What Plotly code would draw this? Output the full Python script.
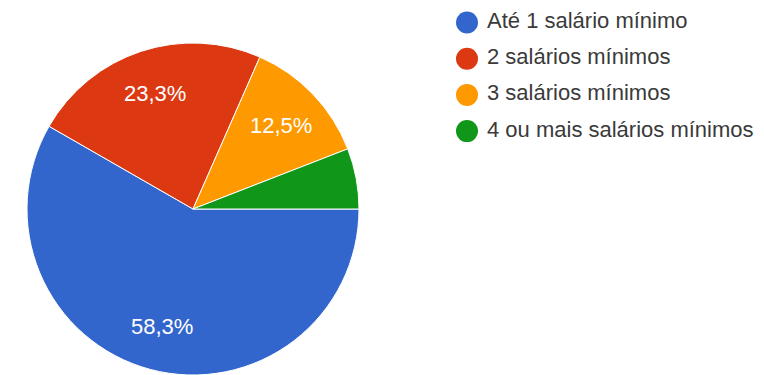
import math
import plotly.graph_objects as go

# Income distribution (share of respondents)
categories = [
    "Até 1 salário mínimo",
    "2 salários mínimos",
    "3 salários mínimos",
    "4 ou mais salários mínimos",
]
shares = [58.3, 23.3, 12.5, 5.9]
colors = ["#3366cc", "#dc3912", "#ff9900", "#109618"]
# the smallest slice carries no label
show_label = [True, True, True, False]

W, H = 764, 375
FONT = "Liberation Sans, Arial, sans-serif"

# pie placement in pixels
cx, cy, r = 193, 209, 166
start_deg = 90          # first slice starts at 3 o'clock, runs clockwise
label_radius = 0.73     # fraction of the radius where slice labels sit

fig = go.Figure()

fig.add_trace(go.Pie(
    labels=categories,
    values=shares,
    sort=False,
    direction="clockwise",
    rotation=start_deg,
    marker=dict(colors=colors, line=dict(color="white", width=1)),
    textinfo="none",
    showlegend=False,
    hoverinfo="label+percent",
    domain=dict(
        x=[(cx - r) / W, (cx + r) / W],
        y=[1 - (cy + r) / H, 1 - (cy - r) / H],
    ),
))

# slice labels, placed on each slice's mid angle
total = sum(shares)
cum = 0.0
for share, show in zip(shares, show_label):
    mid = math.radians(start_deg + 360 * (cum + share / 2) / total)
    cum += share
    if not show:
        continue
    px = cx + label_radius * r * math.sin(mid)
    py = cy - label_radius * r * math.cos(mid)
    pct = f"{100 * share / total:.1f}".replace(".", ",") + "%"
    fig.add_annotation(
        x=px / W, y=1 - py / H, xref="paper", yref="paper",
        text=pct, showarrow=False,
        xanchor="center", yanchor="middle",
        font=dict(family=FONT, size=22, color="white"),
    )

# legend: one circular swatch + label per category
row_top, row_gap = 22.5, 36.2
text_dx = 20
n = len(categories)
fig.add_trace(go.Scatter(
    x=[0] * n,
    y=list(range(n)),
    mode="markers",
    marker=dict(size=22, color=colors, line=dict(width=0)),
    cliponaxis=False,
    showlegend=False,
    hoverinfo="skip",
))
fig.add_trace(go.Scatter(
    x=[text_dx] * n,
    y=list(range(n)),
    mode="text",
    text=categories,
    textposition="middle right",
    textfont=dict(family=FONT, size=22, color="#3a3a3a"),
    cliponaxis=False,
    showlegend=False,
    hoverinfo="skip",
))

x0_px = 467
y_top_px = row_top - row_gap / 2
y_bot_px = row_top + row_gap * (n - 0.5)
fig.update_layout(
    width=W,
    height=H,
    margin=dict(l=0, r=0, t=0, b=0),
    paper_bgcolor="white",
    plot_bgcolor="white",
    font=dict(family=FONT),
    xaxis=dict(domain=[x0_px / W, 1], range=[0, W - x0_px], visible=False, fixedrange=True),
    yaxis=dict(
        domain=[1 - y_bot_px / H, 1 - y_top_px / H],
        range=[n - 0.5, -0.5],
        visible=False,
        fixedrange=True,
    ),
)

fig.write_html("out.html")
